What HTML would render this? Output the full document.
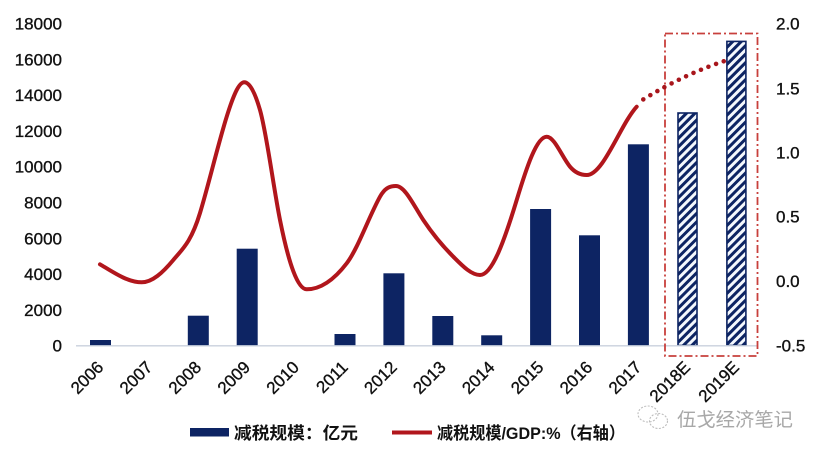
<!DOCTYPE html>
<html>
<head>
<meta charset="utf-8">
<style>
  html,body{margin:0;padding:0;background:#fff;}
  svg{display:block;}
  .ax{font-family:"Liberation Sans",sans-serif;font-size:17px;fill:#111;stroke:#111;stroke-width:0.35px;}
  .lg{font-family:"Liberation Sans","Noto Sans CJK SC",sans-serif;font-size:17px;font-weight:bold;fill:#111;}
  .wm{font-family:"Liberation Sans","Noto Sans CJK SC",sans-serif;font-size:19px;fill:#a8a8a8;}
</style>
</head>
<body>
<svg width="821" height="453" viewBox="0 0 821 453" xmlns="http://www.w3.org/2000/svg">
  <defs>
    <pattern id="hatch" width="6" height="6" patternUnits="userSpaceOnUse" patternTransform="rotate(45)">
      <rect width="6" height="6" fill="#f4f8fd"/>
      <rect width="3" height="6" fill="#0d2463"/>
    </pattern>
  </defs>
  <rect width="821" height="453" fill="#fff"/>

  <!-- left axis labels -->
  <g class="ax" text-anchor="end">
    <text x="62" y="29.5">18000</text>
    <text x="62" y="65.3">16000</text>
    <text x="62" y="101.1">14000</text>
    <text x="62" y="136.9">12000</text>
    <text x="62" y="172.7">10000</text>
    <text x="62" y="208.5">8000</text>
    <text x="62" y="244.3">6000</text>
    <text x="62" y="280.1">4000</text>
    <text x="62" y="315.9">2000</text>
    <text x="62" y="351.7">0</text>
  </g>

  <!-- right axis labels -->
  <g class="ax" text-anchor="start">
    <text x="776" y="29.5">2.0</text>
    <text x="776" y="94.3">1.5</text>
    <text x="776" y="158.7">1.0</text>
    <text x="776" y="222.3">0.5</text>
    <text x="776" y="287.1">0.0</text>
    <text x="776" y="351.7">-0.5</text>
  </g>

  <!-- bars -->
  <g fill="#0d2463">
    <rect x="90" y="340" width="21" height="5.5"/>
    <rect x="187.8" y="315.7" width="21" height="29.8"/>
    <rect x="236.7" y="248.7" width="21" height="96.8"/>
    <rect x="334.5" y="334" width="21" height="11.5"/>
    <rect x="383.4" y="273.3" width="21" height="72.2"/>
    <rect x="432.3" y="316" width="21" height="29.5"/>
    <rect x="481.2" y="335.3" width="21" height="10.2"/>
    <rect x="530.1" y="209" width="21" height="136.5"/>
    <rect x="579" y="235.3" width="21" height="110.2"/>
    <rect x="627.9" y="144.3" width="21" height="201.2"/>
  </g>
  <!-- hatched bars -->
  <rect x="678" y="113" width="19" height="232.5" fill="url(#hatch)" stroke="#0d2463" stroke-width="1.6"/>
  <rect x="726.9" y="41.4" width="19" height="304.1" fill="url(#hatch)" stroke="#0d2463" stroke-width="1.6"/>

  <!-- x axis line -->
  <line x1="76" y1="345.8" x2="757" y2="345.8" stroke="#c9d1dd" stroke-width="1.3"/>

  <!-- dash-dot highlight box -->
  <rect x="665" y="33.5" width="92.5" height="322.5" fill="none" stroke="#c8403c" stroke-width="1.8" stroke-dasharray="8 3 2 3"/>

  <!-- red smooth line -->
  <path d="M100,264.3 C113.9,272.64 127.8,282.3 141.7,282.3
           C152.23,282.3 162.77,272.64 173.3,260
           C182.2,249.32 191.1,242.37 200,213
           C208.9,183.63 217.8,145.18 226.7,116.7
           C232.57,97.92 238.43,82.3 244.3,82.3
           C249.53,82.3 254.77,91.69 260,110
           C266.67,133.33 273.33,186.67 280,220
           C288.9,264.5 297.8,289.3 306.7,289.3
           C320.03,289.3 333.37,280.63 346.7,263.3
           C357.8,248.87 368.9,216.68 380,196.7
           C385.33,187.1 390.67,186 396,186
           C405.1,186 414.2,206.35 423.3,220
           C433.3,235 443.3,246.7 453.3,256.7
           C462.2,265.6 471.1,275 480,275
           C492.23,275 504.47,240.37 516.7,200
           C526.7,167 536.7,136.7 546.7,136.7
           C554.47,136.7 562.23,157.38 570,166.7
           C575.57,173.38 581.13,175 586.7,175
           C603.37,175 620.03,125.03 636.7,106.7"
        fill="none" stroke="#b1161c" stroke-width="4" stroke-linecap="round" stroke-linejoin="round"/>
  <!-- dotted projection -->
  <path d="M643.3,99.4 Q688,72 731,59" fill="none" stroke="#a8161c" stroke-width="4.6" stroke-linecap="round" stroke-dasharray="0 8.1"/>

  <!-- x labels -->
  <g class="ax" text-anchor="end">
    <text x="104.5" y="368.3" transform="rotate(-45 104.5 368.3)">2006</text>
    <text x="153.4" y="368.3" transform="rotate(-45 153.4 368.3)">2007</text>
    <text x="202.3" y="368.3" transform="rotate(-45 202.3 368.3)">2008</text>
    <text x="251.2" y="368.3" transform="rotate(-45 251.2 368.3)">2009</text>
    <text x="300.1" y="368.3" transform="rotate(-45 300.1 368.3)">2010</text>
    <text x="349" y="368.3" transform="rotate(-45 349 368.3)">2011</text>
    <text x="397.9" y="368.3" transform="rotate(-45 397.9 368.3)">2012</text>
    <text x="446.8" y="368.3" transform="rotate(-45 446.8 368.3)">2013</text>
    <text x="495.7" y="368.3" transform="rotate(-45 495.7 368.3)">2014</text>
    <text x="544.6" y="368.3" transform="rotate(-45 544.6 368.3)">2015</text>
    <text x="593.5" y="368.3" transform="rotate(-45 593.5 368.3)">2016</text>
    <text x="642.4" y="368.3" transform="rotate(-45 642.4 368.3)">2017</text>
    <text x="691.3" y="368.3" transform="rotate(-45 691.3 368.3)">2018E</text>
    <text x="740.2" y="368.3" transform="rotate(-45 740.2 368.3)">2019E</text>
  </g>

  <!-- legend -->
  <rect x="190" y="428" width="39" height="8.5" fill="#0d2463"/>
  <text class="lg" x="234" y="439" textLength="124" lengthAdjust="spacingAndGlyphs">减税规模：亿元</text>
  <line x1="392" y1="432.5" x2="432" y2="432.5" stroke="#b1161c" stroke-width="4"/>
  <text class="lg" x="437" y="439" textLength="188" lengthAdjust="spacingAndGlyphs">减税规模/GDP:%（右轴）</text>

  <!-- watermark -->
  <g fill="none" stroke="#bdbdbd" stroke-width="1.1" stroke-dasharray="2 1.5">
    <ellipse cx="648" cy="414" rx="10" ry="8"/>
    <ellipse cx="658.5" cy="421" rx="9" ry="7.5"/>
  </g>
  <text class="wm" x="677" y="426" textLength="116" lengthAdjust="spacingAndGlyphs">伍戈经济笔记</text>
</svg>
</body>
</html>
